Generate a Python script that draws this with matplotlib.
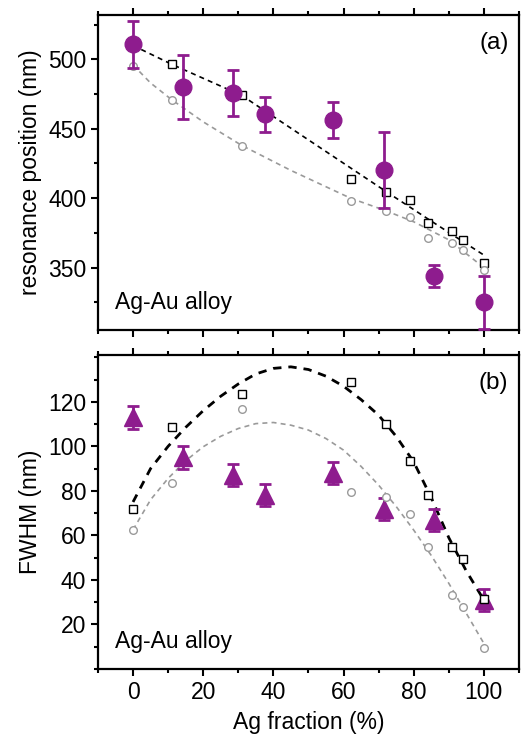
import numpy as np
import matplotlib
matplotlib.use('Agg')
import matplotlib.pyplot as plt
from matplotlib.ticker import MultipleLocator

plt.rcParams['font.family'] = ['Liberation Sans', 'DejaVu Sans']

PURPLE = '#8E1C8E'
GREY = '#9A9A9A'

# ---- panel (a): resonance position ----
exp_x = [0, 14.3, 28.6, 37.5, 57.1, 71.4, 85.7, 100]
res_exp = [511, 480, 476, 460.5, 456, 420.5, 344, 325]
res_err = [17, 23, 16.5, 12.5, 13, 27.5, 8, 19]

sim_x = [11, 31, 62, 72, 79, 84, 91, 94, 100]
res_sq = [496.5, 474, 414, 404.5, 398.5, 382, 376, 370, 353]
sim_x_c = [0, 11, 31, 62, 72, 79, 84, 91, 94, 100]
res_circ = [495.5, 470.5, 437.5, 398, 390.5, 386.5, 371.5, 368, 362.5, 348]

fit_a_x = [0, 11, 31, 50, 72, 85, 100]
fit_a_black = [510, 496.5, 474, 442, 405, 383.5, 359]
fit_a_grey_x = [0, 5, 11, 20, 31, 45, 62, 72, 80, 90, 100]
fit_a_grey = [496, 483, 471, 455, 438, 420, 400, 391, 383, 370, 350]

# ---- panel (b): FWHM ----
fwhm_exp = [113, 95, 87, 78, 88, 72, 67, 31]
fwhm_err = [5, 5, 5, 5, 5, 5, 5, 5]
sim_x_b = [0, 11, 31, 62, 72, 79, 84, 91, 94, 100]
fwhm_sq = [72, 108.5, 123.3, 129, 110, 93.4, 78, 54.8, 49.5, 31.5]
fwhm_circ = [62.3, 83.6, 116.6, 79.5, 77.2, 69.6, 54.6, 33.2, 28, 9.5]

fit_b_x = [0, 5, 10, 15, 20, 25, 30, 35, 40, 45, 50,
           55, 60, 65, 70, 75, 80, 85, 90, 95, 100]
fit_b_black = [75, 90, 100, 108.5, 116, 122.5, 128, 132.5, 135, 135.7, 134.5,
               131.5, 127, 121, 114, 104.5, 93, 77, 59, 44, 31]
fit_b_grey = [62.5, 76, 85.6, 93.5, 99.8, 104.5, 108, 110.2, 110.7, 109.5, 107.3,
              103.5, 98.3, 91, 82.6, 73, 62.4, 51, 38.5, 25, 11.5]

fig = plt.figure(figsize=(5.21, 7.34), dpi=100, facecolor='white')
ax1 = fig.add_axes([0.188, 0.5504, 0.808, 0.4292])
ax2 = fig.add_axes([0.188, 0.0886, 0.808, 0.4277])

# panel (a)
ax1.plot(fit_a_x, fit_a_black, color='black', ls=(0, (3, 2.5)), lw=1.2, zorder=2)
ax1.plot(fit_a_grey_x, fit_a_grey, color=GREY, ls=(0, (3, 2.5)), lw=1.2, zorder=2)
ax1.plot(sim_x, res_sq, 's', ms=5.5, mfc='white', mec='black', mew=1.0, zorder=3)
ax1.plot(sim_x_c, res_circ, 'o', ms=5.5, mfc='white', mec=GREY, mew=1.0, zorder=3)
ax1.errorbar(exp_x, res_exp, yerr=res_err, fmt='o', ms=12, color=PURPLE,
             ecolor=PURPLE, elinewidth=2, capsize=4, capthick=2, zorder=4)
ax1.set_ylim(305, 532)
ax1.set_ylabel('resonance position (nm)', fontsize=16.5)
ax1.yaxis.set_major_locator(MultipleLocator(50))
ax1.yaxis.set_minor_locator(MultipleLocator(25))
ax1.text(0.975, 0.945, '(a)', transform=ax1.transAxes, ha='right', va='top', fontsize=17.5)
ax1.text(0.04, 0.05, 'Ag-Au alloy', transform=ax1.transAxes, ha='left', va='bottom', fontsize=16.5)
ax1.tick_params(axis='x', which='both', labelbottom=False)

# panel (b)
ax2.plot(fit_b_x, fit_b_black, color='black', ls=(0, (3, 2.5)), lw=2.0, zorder=2)
ax2.plot(fit_b_x, fit_b_grey, color=GREY, ls=(0, (3, 2.5)), lw=1.2, zorder=2)
ax2.errorbar(exp_x, fwhm_exp, yerr=fwhm_err, fmt='^', ms=13, color=PURPLE,
             ecolor=PURPLE, elinewidth=2, capsize=4, capthick=2, zorder=3)
ax2.plot(sim_x_b, fwhm_sq, 's', ms=5.5, mfc='white', mec='black', mew=1.0, zorder=4)
ax2.plot(sim_x_b, fwhm_circ, 'o', ms=5.5, mfc='white', mec=GREY, mew=1.0, zorder=4)
ax2.set_ylim(0, 141)
ax2.set_ylabel('FWHM (nm)', fontsize=16.5)
ax2.set_xlabel('Ag fraction (%)', fontsize=16.5, labelpad=5)
ax2.yaxis.set_minor_locator(MultipleLocator(10))
ax2.set_yticks([20, 40, 60, 80, 100, 120])
ax2.text(0.975, 0.945, '(b)', transform=ax2.transAxes, ha='right', va='top', fontsize=17.5)
ax2.text(0.04, 0.05, 'Ag-Au alloy', transform=ax2.transAxes, ha='left', va='bottom', fontsize=16.5)

for ax in (ax1, ax2):
    ax.set_xlim(-10, 110)
    ax.xaxis.set_major_locator(MultipleLocator(20))
    ax.xaxis.set_minor_locator(MultipleLocator(10))
    for sp in ax.spines.values():
        sp.set_linewidth(1.6)
    ax.tick_params(which='both', direction='out', top=True, right=False, width=1.5,
                   labelsize=16.5)
    ax.tick_params(which='major', length=5)
    ax.tick_params(which='minor', length=3)

fig.savefig('out.png', dpi=100, facecolor='white')
